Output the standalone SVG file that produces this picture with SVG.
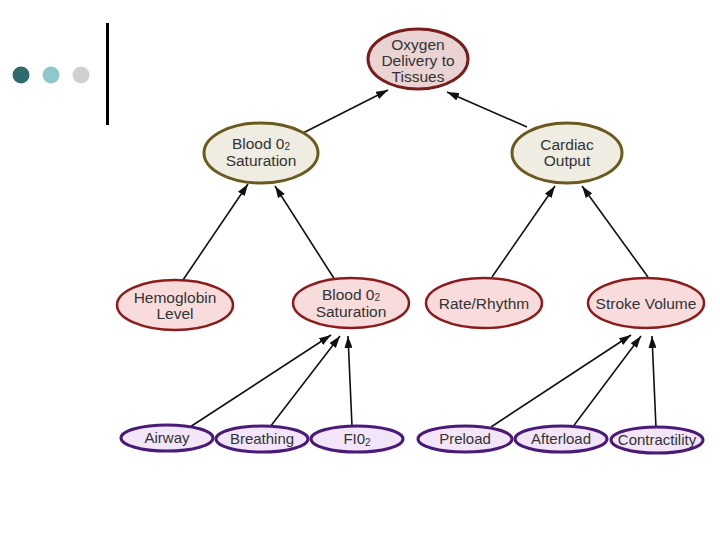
<svg xmlns="http://www.w3.org/2000/svg" width="720" height="540" viewBox="0 0 720 540">
<defs>
<marker id="ah" viewBox="0 0 12 8" refX="12" refY="4" markerWidth="12" markerHeight="8" markerUnits="userSpaceOnUse" orient="auto">
<path d="M0,0 L12,4 L0,8 z" fill="#111"/>
</marker>
<style>
text{font-family:"Liberation Sans",Arial,sans-serif;font-size:15.5px;fill:#333;text-anchor:middle}
.s{font-size:15px}
.top{fill:#ead3d3;stroke:#7a1c1c;stroke-width:3}
.l2{fill:#efece1;stroke:#6b5a1e;stroke-width:3}
.l3{fill:#f8dcdc;stroke:#8b1c1c;stroke-width:2.5}
.l4{fill:#f2e5f8;stroke:#4a1a78;stroke-width:3}
.c line{stroke:#111;stroke-width:1.6;marker-end:url(#ah)}
.sub{font-size:10px}
</style>
</defs>
<rect width="720" height="540" fill="#fff"/>
<g id="deco">
<circle cx="21" cy="75" r="8.5" fill="#2e6b6e"/>
<circle cx="51" cy="75" r="8.5" fill="#8ec8cc"/>
<circle cx="81" cy="75" r="8.5" fill="#d0d0d0"/>
<rect x="106" y="23" width="3" height="102" fill="#000"/>
</g>
<g class="c" id="connectors">
<line x1="303" y1="133" x2="388" y2="90"/>
<line x1="527" y1="127" x2="447" y2="92"/>
<line x1="183" y1="280" x2="248" y2="184"/>
<line x1="335" y1="280" x2="275" y2="186"/>
<line x1="492" y1="277" x2="555" y2="186"/>
<line x1="648" y1="277" x2="582" y2="186"/>
<line x1="190" y1="427" x2="331" y2="335"/>
<line x1="270" y1="427" x2="340" y2="336"/>
<line x1="352" y1="426" x2="348" y2="336"/>
<line x1="491" y1="427" x2="631" y2="335"/>
<line x1="572" y1="428" x2="641" y2="336"/>
<line x1="656" y1="428" x2="652" y2="336"/>
</g>
<g id="oxygen">
<ellipse class="top" cx="418" cy="59" rx="50" ry="30"/>
<text x="418" y="50">Oxygen</text>
<text x="418" y="66">Delivery to</text>
<text x="418" y="82">Tissues</text>
</g>
<g id="sat2">
<ellipse class="l2" cx="261" cy="153" rx="57" ry="30"/>
<text x="261" y="149">Blood 0<tspan class="sub" dy="1">2</tspan></text>
<text x="261" y="166">Saturation</text>
</g>
<g id="cardiac">
<ellipse class="l2" cx="567" cy="153" rx="55" ry="30"/>
<text x="567" y="150">Cardiac</text>
<text x="567" y="166">Output</text>
</g>
<g id="hemo">
<ellipse class="l3" cx="175" cy="305" rx="58" ry="25"/>
<text x="175" y="303">Hemoglobin</text>
<text x="175" y="319">Level</text>
</g>
<g id="sat3">
<ellipse class="l3" cx="351" cy="303" rx="58" ry="25"/>
<text x="351" y="300">Blood 0<tspan class="sub" dy="1">2</tspan></text>
<text x="351" y="317">Saturation</text>
</g>
<g id="rate">
<ellipse class="l3" cx="484" cy="303" rx="58" ry="25"/>
<text x="484" y="309">Rate/Rhythm</text>
</g>
<g id="stroke">
<ellipse class="l3" cx="646" cy="303" rx="58" ry="25"/>
<text x="646" y="309">Stroke Volume</text>
</g>
<g id="airway">
<ellipse class="l4" cx="167" cy="438" rx="46" ry="13"/>
<text class="s" x="167" y="443">Airway</text>
</g>
<g id="breathing">
<ellipse class="l4" cx="262" cy="439" rx="46" ry="13"/>
<text class="s" x="262" y="444">Breathing</text>
</g>
<g id="fio2">
<ellipse class="l4" cx="357" cy="439" rx="46" ry="13"/>
<text class="s" x="357" y="444">FI0<tspan class="sub" dy="2">2</tspan></text>
</g>
<g id="preload">
<ellipse class="l4" cx="465" cy="439" rx="47" ry="13"/>
<text class="s" x="465" y="444">Preload</text>
</g>
<g id="afterload">
<ellipse class="l4" cx="561" cy="439" rx="46" ry="13"/>
<text class="s" x="561" y="444">Afterload</text>
</g>
<g id="contractility">
<ellipse class="l4" cx="657" cy="440" rx="46" ry="13"/>
<text class="s" x="657" y="445">Contractility</text>
</g>
</svg>
